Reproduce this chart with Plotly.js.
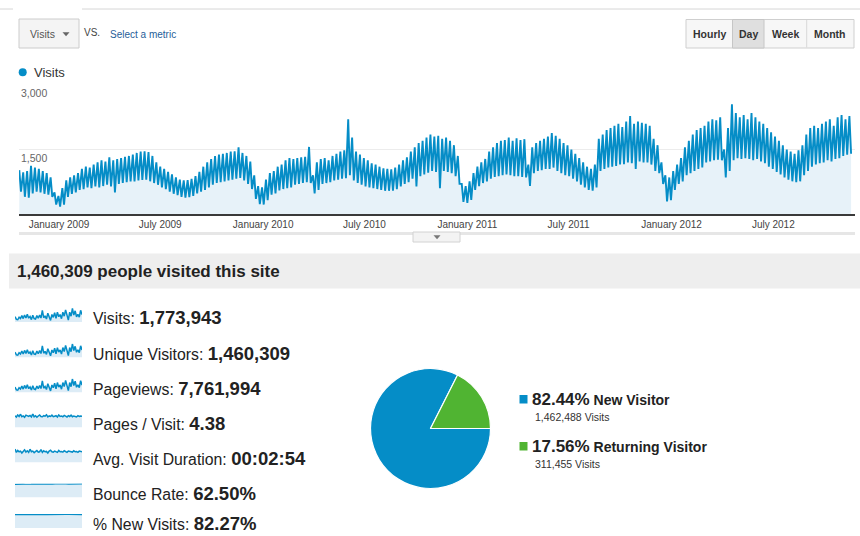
<!DOCTYPE html>
<html>
<head>
<meta charset="utf-8">
<script src="https://cdn.plot.ly/plotly-3.0.1.min.js"></script>
<style>
  html, body { margin: 0; padding: 0; background: #ffffff; }
  #chart { width: 860px; height: 536px; }
</style>
</head>
<body>
<div id="chart"></div>
<script>
// ---------------- DATA ----------------
const xTickDates  = ['2009-01-01','2009-07-01','2010-01-01','2010-07-01','2011-01-01','2011-07-01','2012-01-01','2012-07-01'];
const xTickLabels = ['January 2009','July 2009','January 2010','July 2010','January 2011','July 2011','January 2012','July 2012'];
const yTickValues = [1500, 3000];
const yTickLabels = ['1,500', '3,000'];

const seriesStart = '2008-10-21';   // first week of the daily Visits series
// weekly weekday peak and weekend low of daily Visits
const weeklyPeakVisits = [
  1020, 970, 1000, 1120, 1080, 1050, 1000, 950, 850, 500,
  420, 600, 780, 850, 900, 950, 1050, 1100, 1080, 1150,
  1200, 1250, 1220, 1320, 1250, 1280, 1300, 1330, 1350, 1380,
  1420, 1450, 1460, 1440, 1350, 1200, 1100, 1050, 980, 920,
  850, 800, 780, 790, 820, 880, 980, 1100, 1200, 1280,
  1350, 1380, 1400, 1420, 1450, 1460, 1550, 1420, 1350, 1220,
  900, 650, 620, 800, 950, 1000, 1100, 1150, 1250, 1300,
  1280, 1300, 1320, 1330, 1560, 900, 1200, 1280, 1300, 1250,
  1350, 1400, 1450, 1480, 2200, 1780, 1450, 1380, 1300, 1250,
  1180, 1150, 1100, 1060, 1050, 1040, 1080, 1150, 1250, 1320,
  1450, 1550, 1650, 1700, 1780, 1850, 1800, 1820, 1750, 1780,
  1700, 1600, 1350, 700, 650, 760, 950, 1100, 1200, 1280,
  1450, 1550, 1650, 1700, 1720, 1780, 1700, 1760, 1720, 1740,
  1150, 1550, 1650, 1700, 1750, 1800, 1880, 1820, 1750, 1650,
  1600, 1500, 1400, 1300, 1200, 1100, 1050, 1150, 1750, 1850,
  1950, 2000, 2050, 2100, 2020, 2150, 2280, 2100, 2150, 2120,
  2100, 2050, 1750, 1600, 1200, 900, 850, 1000, 1150, 1300,
  1550, 1700, 1850, 1950, 2000, 2050, 2150, 2200, 2180, 2250,
  1500, 2000, 2550, 2350, 2250, 2300, 2200, 2350, 2250, 2150,
  2100, 2000, 1900, 1800, 1700, 1600, 1500, 1450, 1400, 1480,
  1600, 1850, 2000, 2050, 2000, 2100, 2150, 2200, 2050, 2250,
  2300, 2200, 2280
];
const weeklyLowVisits = [
  520, 400, 380, 480, 520, 500, 470, 450, 400, 220,
  170, 220, 400, 470, 500, 560, 580, 620, 600, 640,
  620, 650, 680, 640, 500, 700, 720, 740, 760, 760,
  780, 790, 800, 760, 720, 680, 620, 580, 520, 470,
  440, 400, 380, 390, 420, 480, 520, 560, 620, 680,
  720, 740, 760, 780, 800, 820, 840, 780, 700, 580,
  350, 230, 220, 320, 450, 480, 550, 580, 600, 620,
  680, 700, 720, 740, 720, 480, 560, 700, 720, 740,
  780, 800, 820, 830, 900, 780, 720, 680, 640, 620,
  600, 580, 560, 540, 540, 540, 580, 640, 700, 740,
  820, 640, 880, 920, 960, 1000, 980, 600, 1000, 980,
  950, 880, 700, 280, 260, 330, 560, 650, 720, 760,
  820, 860, 880, 900, 920, 900, 880, 880, 860, 850,
  650, 950, 1000, 1020, 1050, 1050, 1080, 1000, 950, 900,
  880, 820, 760, 680, 620, 560, 540, 620, 1000, 1050,
  1080, 1100, 1120, 1150, 1160, 1200, 1180, 1050, 1220, 1200,
  1200, 1150, 1000, 950, 700, 290, 320, 560, 700, 760,
  900, 950, 1000, 1050, 1080, 1200, 1220, 1250, 1260, 1250,
  850, 1000, 1250, 1300, 1280, 1300, 1280, 1250, 1280, 1220,
  1180, 1100, 1050, 980, 920, 850, 800, 760, 740, 760,
  900, 1000, 1100, 1150, 1180, 1200, 1250, 1220, 1280, 1300,
  1350, 1380, 1400
];

const headerPeople = '1,460,309';
const metricNames  = ['Visits', 'Unique Visitors', 'Pageviews', 'Pages / Visit', 'Avg. Visit Duration', 'Bounce Rate', '% New Visits'];
const metricValues = ['1,773,943', '1,460,309', '7,761,994', '4.38', '00:02:54', '62.50%', '82.27%'];

// sparkline series (small trend lines left of each metric)
const sparkVisits = [1000,480,420,900,650,1200,640,1320,760,1450,720,1050,450,1250,640,560,1200,700,1300,740,2200,800,1150,560,1650,900,300,1400,880,1740,680,1850,1000,1400,620,1850,1100,2270,1000,350,1850,1080,2550,1300,2100,980,1450,900,2200,1380];
const sparkUnique = [820,400,360,750,540,990,530,1090,630,1190,600,870,380,1030,530,470,990,580,1070,610,1800,660,950,470,1360,740,260,1150,730,1430,570,1520,830,1160,520,1520,910,1860,830,300,1520,890,2090,1070,1720,810,1190,750,1800,1140];
const sparkPageviews = [4400,2100,1850,3900,2850,5200,2800,5800,3300,6300,3150,4600,2000,5500,2800,2450,5300,3100,5700,3250,9500,3500,5000,2450,7200,3950,1300,6100,3850,7600,3000,8100,4400,6100,2700,8100,4800,9900,4400,1550,8100,4700,11100,5700,9200,4300,6300,3950,9600,6000];
const sparkPagesPerVisit = [4.6,4.1,4.9,4.3,5.2,4.2,4.5,4.0,4.8,4.4,4.3,4.7,4.1,5.3,4.2,4.6,4.0,4.5,4.9,4.3,4.2,4.6,4.4,5.0,4.1,4.5,4.3,4.8,4.2,4.4,4.6,4.1,4.9,4.3,4.5,4.2,4.7,4.4,4.1,4.6,4.3,4.8,4.2,4.5,4.4,4.1,4.6,4.3,4.5,4.4];
const sparkDuration = [215,160,190,170,180,150,175,200,165,185,160,210,170,180,155,175,190,165,170,205,160,185,170,175,150,180,195,170,165,180,175,160,190,170,175,165,185,170,160,180,175,170,165,185,170,175,160,180,175,170];
const sparkBounce = [61.5,63.0,62.0,62.8,61.8,63.5,62.2,62.9,61.9,62.5,63.2,62.1,62.7,61.6,62.4,63.0,62.2,62.8,62.0,63.1,62.4,62.6,61.9,62.7,62.3,63.4];
const sparkNewVisits = [82.0,83.1,82.5,81.8,82.9,82.2,83.0,82.4,81.9,82.6,82.1,82.8,82.3,81.7,82.5,82.9,82.2,82.7,82.0,82.6,82.4,81.9,82.8,82.3,82.5,82.1];

const visitorTypes  = ['New Visitor', 'Returning Visitor'];
const visitorVisits = [1462488, 311455];

// ---------------- STYLE / LAYOUT HELPERS ----------------
const W = 860, H = 536;
const PX = x => x / W;
const PY = y => 1 - y / H;
const FONT = 'Liberation Sans, Arial, Helvetica, sans-serif';
const BLUE = '#058dc7', GREEN = '#50b432';

// build the daily-visits zigzag from weekly peaks/lows
const startMs = Date.parse(seriesStart + 'T00:00:00Z');
const DAY = 86400000;
const iso = ms => new Date(ms).toISOString().slice(0, 10);
const mainX = [], mainY = [];
for (let w = 0; w < weeklyPeakVisits.length; w++) {
  mainX.push(iso(startMs + (7 * w + 1) * DAY)); mainY.push(weeklyPeakVisits[w]);
  mainX.push(iso(startMs + (7 * w + 4) * DAY)); mainY.push(weeklyLowVisits[w]);
}

const traces = [];
traces.push({
  type: 'scatter', mode: 'lines', x: mainX, y: mainY,
  xaxis: 'x', yaxis: 'y',
  line: { color: BLUE, width: 1.9 },
  fill: 'tozeroy', fillcolor: '#e7f2f9',
  hoverinfo: 'skip'
});

const layout = {
  width: W, height: H,
  margin: { l: 0, r: 0, t: 0, b: 0 },
  paper_bgcolor: '#ffffff', plot_bgcolor: 'rgba(0,0,0,0)',
  showlegend: false, hovermode: false,
  font: { family: FONT, color: '#333' },
  xaxis: {
    domain: [PX(19), PX(855)], anchor: 'y', type: 'date',
    range: ['2008-10-21 12:00', '2012-11-24'],
    tickmode: 'array', tickvals: xTickDates, ticktext: xTickLabels,
    tickfont: { family: FONT, size: 10, color: '#444' },
    ticks: '', showgrid: false, zeroline: false,
    showline: true, linecolor: '#3a3a3a', linewidth: 1.5, fixedrange: true
  },
  yaxis: {
    domain: [PY(214), PY(85)], anchor: 'x', range: [0, 3000],
    tickmode: 'array', tickvals: yTickValues, showticklabels: false,
    showgrid: true, gridcolor: '#ececec', gridwidth: 1,
    zeroline: false, showline: false, ticks: '', fixedrange: true
  },
  shapes: [], annotations: []
};

const rect = (x0, y0, x1, y1, fill, line, lw) => ({
  type: 'rect', xref: 'paper', yref: 'paper', layer: 'below',
  x0: PX(x0), x1: PX(x1), y0: PY(y1), y1: PY(y0),
  fillcolor: fill, line: { color: line || 'rgba(0,0,0,0)', width: line ? (lw || 1) : 0 }
});
const hline = (x0, x1, y, color, w) => ({
  type: 'line', xref: 'paper', yref: 'paper', layer: 'below',
  x0: PX(x0), x1: PX(x1), y0: PY(y), y1: PY(y), line: { color: color, width: w }
});
const vline = (x, y0, y1, color, w) => ({
  type: 'line', xref: 'paper', yref: 'paper',
  x0: PX(x), x1: PX(x), y0: PY(y0), y1: PY(y1), line: { color: color, width: w }
});
const tri = (cx, cy, s, color) => ({
  type: 'path', xref: 'paper', yref: 'paper',
  path: `M ${PX(cx - s)} ${PY(cy - s / 2)} L ${PX(cx + s)} ${PY(cy - s / 2)} L ${PX(cx)} ${PY(cy + s / 2 + 0.5)} Z`,
  fillcolor: color, line: { width: 0 }
});
// left-anchored texts get a -2px shift to cancel the annotation padding
const text = (x, y, t, size, color, anchor, extra) => Object.assign({
  xref: 'paper', yref: 'paper', x: PX(anchor && anchor !== 'left' ? x : x - 2), y: PY(y), text: t, showarrow: false,
  xanchor: anchor || 'left', yanchor: 'middle',
  font: { family: FONT, size: size, color: color || '#333' }
}, extra || {});

const S = layout.shapes, A = layout.annotations;

// top rule
S.push(hline(0, 13, 9, '#d6d6d6', 1));
S.push(hline(82, 860, 9, '#d6d6d6', 1));

// metric dropdown + selector
S.push(rect(19, 19, 79, 48, '#f4f4f4', '#cccccc', 1));
S.push(tri(66, 34, 3.5, '#666666'));
A.push(text(30, 34, 'Visits', 10.5, '#555'));
A.push(text(84, 33, 'VS.', 10, '#444'));
A.push(text(110, 34, 'Select a metric', 10, '#1f5e99'));

// Hourly / Day / Week / Month buttons
S.push(rect(686, 19.5, 854, 48, '#f7f7f7', '#cfcfcf', 1));
S.push(rect(732.5, 19.5, 764, 48, '#dfdfdf', '#c6c6c6', 1));
S.push(vline(806.7, 20, 47.5, '#d8d8d8', 1));
A.push(text(709, 34, '<b>Hourly</b>', 10.5, '#333', 'center'));
A.push(text(748, 34, '<b>Day</b>', 10.5, '#333', 'center'));
A.push(text(785.5, 34, '<b>Week</b>', 10.5, '#333', 'center'));
A.push(text(830, 34, '<b>Month</b>', 10.5, '#333', 'center'));

// legend
S.push({ type: 'circle', xref: 'paper', yref: 'paper',
  x0: PX(18.7), x1: PX(26.7), y0: PY(76.3), y1: PY(68.3),
  fillcolor: BLUE, line: { width: 0 } });
A.push(text(34, 72.3, 'Visits', 13, '#333'));

// y labels inside plot, just under their gridlines
yTickValues.forEach((v, i) => {
  A.push({ xref: 'paper', yref: 'y', x: PX(19), y: v, text: yTickLabels[i], showarrow: false,
    xanchor: 'left', yanchor: 'top', yshift: 0,
    font: { family: FONT, size: 10.5, color: '#666' } });
});

// band under x labels + small collapse tab
S.push(hline(19, 855, 233.5, '#e6e6e6', 3));
S.push(rect(413, 232, 460, 242, '#f3f3f3', '#d2d2d2', 1));
S.push(tri(437, 237, 3.5, '#777777'));

// header bar
S.push(rect(9, 253.5, 860, 288.5, '#eeeeee'));
A.push(text(17, 271.5, '<b>' + headerPeople + ' people visited this site</b>', 17, '#222'));

// metric rows with sparklines
const rowCenters = [317.5, 353, 388, 423, 458, 493, 523.5];
const sparks = [sparkVisits, sparkUnique, sparkPageviews, sparkPagesPerVisit, sparkDuration, sparkBounce, sparkNewVisits];
sparks.forEach((arr, i) => {
  const k = i + 2;
  const c = rowCenters[i];
  const xs = arr.map((_, j) => j);
  const mx = Math.max.apply(null, arr);
  traces.push({
    type: 'scatter', mode: 'lines', x: xs, y: arr,
    xaxis: 'x' + k, yaxis: 'y' + k,
    line: { color: BLUE, width: i < 5 ? 1.5 : 1.2 },
    fill: 'tozeroy', fillcolor: '#ddecf6', hoverinfo: 'skip'
  });
  layout['xaxis' + k] = { domain: [PX(15), PX(82)], anchor: 'y' + k, range: [0, arr.length - 1], visible: false, fixedrange: true };
  layout['yaxis' + k] = { domain: [PY(c + 4.5), PY(c - 9.5)], anchor: 'x' + k, range: [0, mx * 1.03], visible: false, fixedrange: true };
  A.push(text(94, c, metricNames[i] + ': <span style="font-size:18.5px"><b>' + metricValues[i] + '</b></span>', 15.8, '#222',
    'left', { borderpad: 0 }));
});

// pie of visitor types
const totalVisits = visitorVisits.reduce((a, b) => a + b, 0);
traces.push({
  type: 'pie', labels: visitorTypes, values: visitorVisits,
  marker: { colors: [BLUE, GREEN], line: { color: '#ffffff', width: 1.2 } },
  sort: false, direction: 'clockwise', rotation: 90,
  textinfo: 'none', hoverinfo: 'skip', showlegend: false,
  domain: { x: [PX(370.5), PX(490.5)], y: [PY(488.5), PY(368.5)] }
});

// pie legend
const legendRows = [399.5, 446.5];
const legendColors = [BLUE, GREEN];
visitorTypes.forEach((lab, i) => {
  const cy = legendRows[i];
  const pct = (visitorVisits[i] / totalVisits * 100).toFixed(2) + '%';
  S.push(rect(519.5, cy - 4.5, 527.5, cy + 4, legendColors[i]));
  A.push(text(532, cy, '<b>' + pct + '</b><span style="font-size:14px"><b> ' + lab + '</b></span>', 17, '#222'));
  A.push(text(535, cy + 17.5, visitorVisits[i].toLocaleString('en-US') + ' Visits', 10.5, '#333'));
});

Plotly.newPlot('chart', traces, layout, { staticPlot: true, displayModeBar: false });
</script>
</body>
</html>
